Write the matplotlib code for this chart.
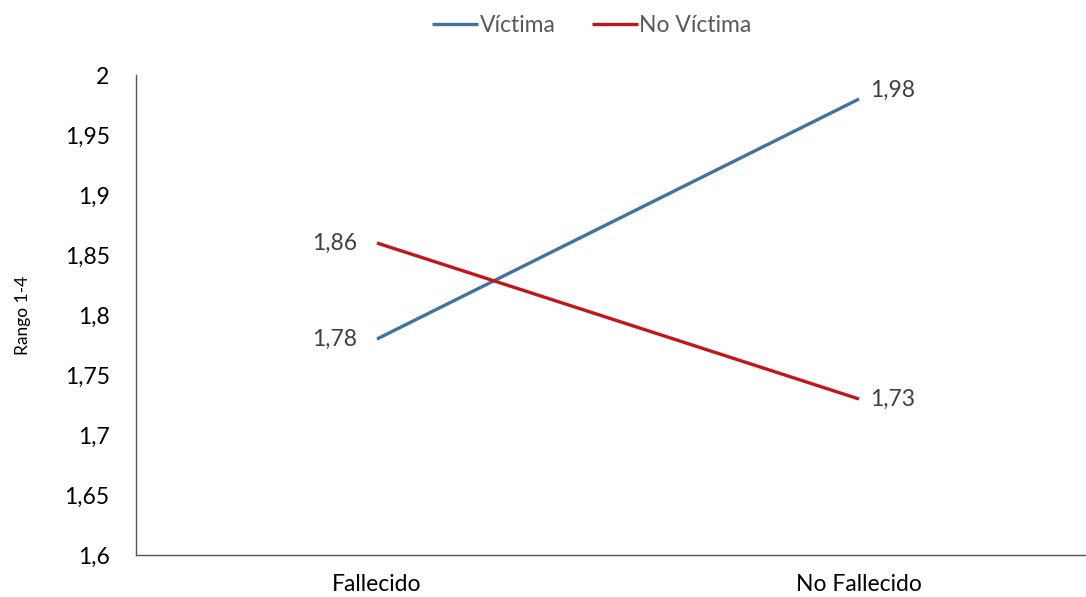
import matplotlib
matplotlib.use("Agg")
import matplotlib.pyplot as plt

categories = ["Fallecido", "No Fallecido"]
victima = [1.78, 1.98]
no_victima = [1.86, 1.73]
yticks = [1.6, 1.65, 1.7, 1.75, 1.8, 1.85, 1.9, 1.95, 2.0]

plt.rcParams['font.family'] = ['Lato', 'DejaVu Sans']

fig = plt.figure(figsize=(10.86, 5.97), dpi=100)
W, H = 1086, 597
ax = fig.add_axes([136 / W, 1 - 555 / H, (1100 - 136) / W, (555 - 75) / H])

x = list(range(len(categories)))
blue = "#44729E"
red = "#C0161C"
ax.plot(x, victima, color=blue, lw=2.4, label="Víctima", solid_capstyle="butt")
ax.plot(x, no_victima, color=red, lw=2.4, label="No Víctima", solid_capstyle="butt")

fs = 16.5
ax.set_xlim(-0.5, 1.5)
ax.set_ylim(1.6, 2.0)
ax.set_yticks(yticks)
ax.set_yticklabels([("%g" % v).replace(".", ",") for v in yticks], fontsize=fs)
ax.set_xticks(x)
ax.set_xticklabels(categories, fontsize=fs)
ax.tick_params(axis='y', length=0, pad=19)
ax.tick_params(axis='x', length=0, pad=14)
for s in ["top", "right"]:
    ax.spines[s].set_visible(False)
for s in ["left", "bottom"]:
    ax.spines[s].set_color("#555555")
    ax.spines[s].set_linewidth(1.0)

ax.set_ylabel("Rango 1-4", fontsize=12.5, labelpad=24)

lab_col = "#404040"
def fmt(v):
    return ("%.2f" % v).replace(".", ",")
for series in (victima, no_victima):
    ax.annotate(fmt(series[0]), (x[0], series[0]), xytext=(-14, 0), textcoords="offset points",
                ha="right", va="center", fontsize=fs, color=lab_col)
    ax.annotate(fmt(series[1]), (x[1], series[1]), xytext=(8, 6 if series[1] > series[0] else 0),
                textcoords="offset points", ha="left", va="center", fontsize=fs, color=lab_col)

leg = fig.legend(loc="upper center", bbox_to_anchor=(0.545, 1.01), ncol=2, frameon=False,
                 fontsize=fs, handlelength=2.0, handletextpad=0.05, columnspacing=1.6)
for t in leg.get_texts():
    t.set_color("#595959")

fig.savefig("out.png", dpi=100)
